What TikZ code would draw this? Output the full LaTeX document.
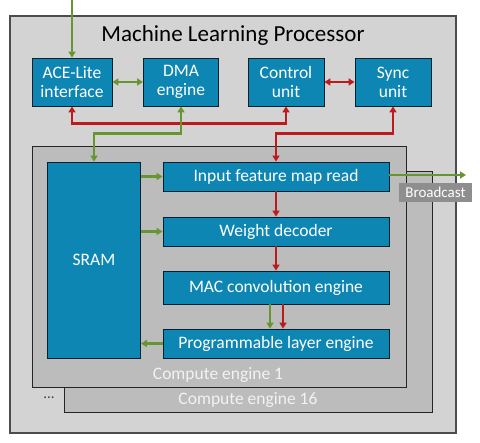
\documentclass[tikz,border=0pt]{standalone}
\usepackage{fontspec}
\setmainfont{Carlito}
\usetikzlibrary{arrows.meta}
\definecolor{bleu}{HTML}{0E86B4}
\definecolor{rouge}{HTML}{BE1A1E}
\definecolor{vert}{HTML}{67952F}
\definecolor{gris}{HTML}{D3D3D3}
\definecolor{grismoyen}{HTML}{BCBCBC}
\definecolor{grisfonce}{HTML}{8E8E8E}
\newcommand{\bloc}[6]{\node[bloc, minimum width=#4pt, minimum height=#5pt] (#1) at (#2,#3) {#6}}
\newcommand{\cadre}[5]{\draw[#1] (#2,#3) rectangle (#4,#5)}

\begin{document}
\begin{tikzpicture}[x=1pt, y=-1pt, >={Triangle[length=6pt,width=7pt]},
	bloc/.style={draw=black!75!bleu, line width=0.8pt, fill=bleu, text=white,
		inner sep=0pt, align=center, font=\fontsize{17.5}{19}\selectfont},
	lienvert/.style={draw=vert, line width=2.4pt},
	lienrouge/.style={draw=rouge, line width=2.4pt}]
	\useasboundingbox (0,0) rectangle (480,443);
%Frames
	\cadre{fill=gris, draw=black!70, line width=1.2pt}{10}{16}{456}{433};
	\cadre{fill=grismoyen, draw=black!85, line width=1pt}{64}{172}{432}{413};
	\cadre{fill=grismoyen, draw=black!85, line width=1pt}{32}{147}{406}{388};
	\node[font=\fontsize{23}{26}\selectfont] (titre) at (233,35) {Machine Learning Processor};
	\node[text=white!95!black, font=\fontsize{17.5}{19}\selectfont] (ce1) at (218,375) {Compute engine 1};
	\node[text=white!95!black, font=\fontsize{17.5}{19}\selectfont] (ce16) at (248,400) {Compute engine 16};
	\node[text=black!75, font=\fontsize{15}{17}\selectfont] (dots) at (49,398) {...};
%Top row
	\bloc{ace}{72}{82}{80}{48}{ACE-Lite\\interface};
	\bloc{dma}{181}{82}{75}{48}{DMA\\engine};
	\bloc{ctrl}{286}{82}{76}{48}{Control\\unit};
	\bloc{sync}{393}{82}{76}{48}{Sync\\unit};
%Compute engine
	\bloc{sram}{94}{260}{93}{196}{SRAM};
	\bloc{ifmr}{276}{176.5}{226}{29}{Input feature map read};
	\bloc{wd}{276}{231.5}{226}{29}{Weight decoder};
	\bloc{mac}{276}{287.5}{226}{33}{MAC convolution engine};
	\bloc{ple}{276}{343.5}{226}{29}{Programmable layer engine};
	\coordinate (entree) at (72,0);
	\coordinate (sortie) at (466,175);
%Links
	\draw[lienvert, ->] (entree) -- (ace.north);
	\draw[lienvert, <->] (ace.east) -- (dma.west);
	\draw[lienrouge, <->] (ctrl.east) -- (sync.west);
	\draw[lienrouge, <->] (ace.south) -- ++(0,17) -| (ctrl.south);
	\draw[lienvert, <->] (dma.south) -- ++(0,27) -| (sram.north);
	\draw[lienrouge, <->] (sync.south) -- ++(0,27) -| (ifmr.north);
	\draw[lienvert, ->] (sram.east |- ifmr.west) -- (ifmr.west);
	\draw[lienvert, ->] (sram.east |- wd.west) -- (wd.west);
	\draw[lienvert, ->] (ple.west) -- (sram.east |- ple.west);
	\draw[lienrouge, ->] (ifmr.south) -- (wd.north);
	\draw[lienrouge, ->] (wd.south) -- (mac.north);
	\draw[lienvert, ->] ([xshift=-6pt]mac.south) -- ([xshift=-6pt]ple.north);
	\draw[lienrouge, ->] ([xshift=7pt]mac.south) -- ([xshift=7pt]ple.north);
	\draw[lienvert, ->] (ifmr.east |- sortie) -- (sortie);
	\node[fill=grisfonce, text=white, inner sep=0pt, minimum width=73pt, minimum height=19pt,
		font=\fontsize{15}{17}\selectfont] (diffusion) at (435.5,192.5) {Broadcast};
\end{tikzpicture}
\end{document}
